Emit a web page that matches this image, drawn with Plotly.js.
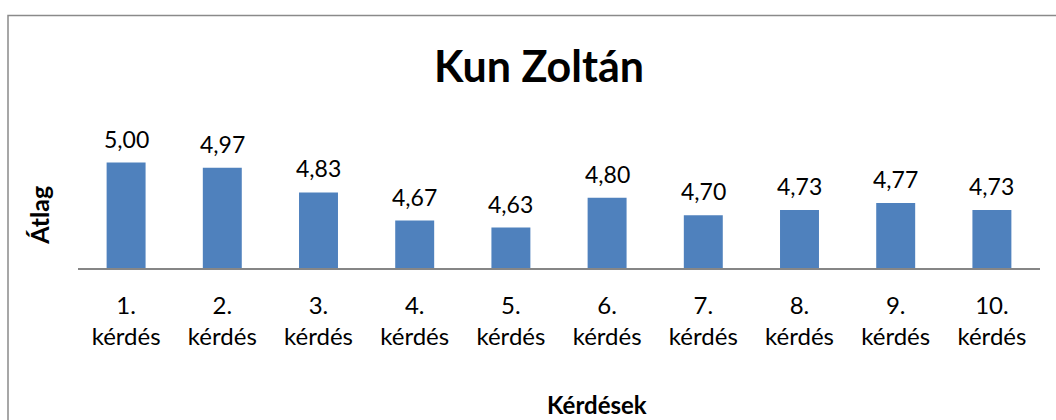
<!DOCTYPE html>
<html>
<head>
<meta charset="utf-8">
<script src="https://cdn.plot.ly/plotly-3.0.1.min.js"></script>
<style>
  html, body { margin: 0; padding: 0; background: #fff; }
  #chart { width: 1056px; height: 420px; }
</style>
</head>
<body>
<div id="chart"></div>
<script>
const chartTitle = 'Kun Zoltán';
const xTitle = 'Kérdések';
const yTitle = 'Átlag';
const categories = ['1. kérdés', '2. kérdés', '3. kérdés', '4. kérdés', '5. kérdés',
                    '6. kérdés', '7. kérdés', '8. kérdés', '9. kérdés', '10. kérdés'];
const tickLabels = ['1.<br>kérdés', '2.<br>kérdés', '3.<br>kérdés', '4.<br>kérdés', '5.<br>kérdés',
                    '6.<br>kérdés', '7.<br>kérdés', '8.<br>kérdés', '9.<br>kérdés', '10.<br>kérdés'];
const values = [5.00, 4.97, 4.83, 4.67, 4.63, 4.80, 4.70, 4.73, 4.77, 4.73];

const FONT = 'Lato, "Open Sans", sans-serif';
const L = 78, R = 1040, TOP = 145, BASE = 268.4;
const W = R - L, H = BASE - TOP;
const px = x => (x - L) / W;
const py = y => (BASE - y) / H;

const valueLabels = values.map((v, i) => ({
  x: categories[i], y: v, xref: 'x', yref: 'y',
  text: v.toFixed(2).replace('.', ','),
  showarrow: false, yanchor: 'bottom', yshift: 8,
  font: {family: FONT, size: 23, color: '#000'}
}));

const data = [{
  type: 'bar',
  x: categories,
  y: values,
  marker: {color: '#4F81BD'},
  hoverinfo: 'x+y'
}];

const layout = {
  width: 1056, height: 420,
  margin: {l: L, r: 1056 - R, t: TOP, b: 420 - BASE},
  paper_bgcolor: '#fff', plot_bgcolor: '#fff',
  separators: ', ',
  bargap: 0.595,
  showlegend: false,
  title: {
    text: chartTitle,
    font: {family: FONT, size: 43, color: '#000', weight: 'bold'},
    x: 539 / 1056, xanchor: 'center', xref: 'container',
    y: 1 - 67 / 420, yanchor: 'middle', yref: 'container'
  },
  xaxis: {
    type: 'category',
    tickvals: categories, ticktext: tickLabels,
    showgrid: false, zeroline: false,
    showline: true, linecolor: '#868686', linewidth: 1.5,
    ticks: '',
    ticklabelstandoff: 15,
    tickfont: {family: FONT, size: 24, color: '#000'},
    fixedrange: true
  },
  yaxis: {
    range: [4.4, 5.1],
    visible: false,
    fixedrange: true
  },
  annotations: valueLabels.concat([
    {text: xTitle, xref: 'paper', yref: 'paper', x: px(597), y: py(405.5),
     xanchor: 'center', yanchor: 'middle', showarrow: false,
     font: {family: FONT, size: 24, color: '#000', weight: 'bold'}},
    {text: yTitle, xref: 'paper', yref: 'paper', x: px(39), y: py(216),
     xanchor: 'center', yanchor: 'middle', showarrow: false, textangle: -90,
     font: {family: FONT, size: 25, color: '#000', weight: 'bold'}}
  ]),
  shapes: [{
    type: 'rect', xref: 'paper', yref: 'paper',
    x0: px(8), y0: py(15), x1: px(1070), y1: py(440),
    line: {color: '#8a8a8a', width: 1.5}, fillcolor: 'rgba(0,0,0,0)', layer: 'below'
  }]
};

Plotly.newPlot('chart', data, layout, {displayModeBar: false});
</script>
</body>
</html>
